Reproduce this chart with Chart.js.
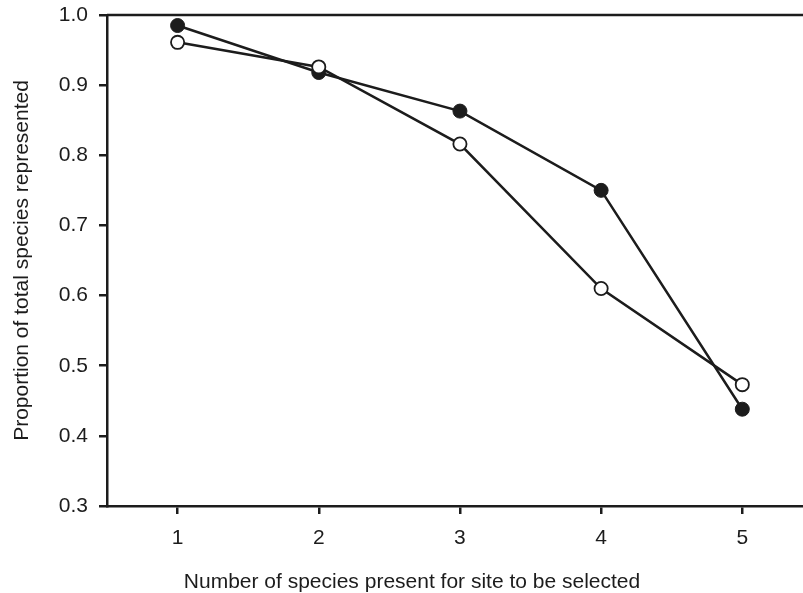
<!DOCTYPE html>
<html>
<head>
<meta charset="utf-8">
<script src="https://cdn.jsdelivr.net/npm/chart.js@4/dist/chart.umd.min.js"></script>
<style>
  body { margin: 0; background: #fff; }
  canvas { display: block; }
</style>
</head>
<body>
<canvas id="myChart" width="803" height="593"></canvas>
<script>
// Data
const categories = [1, 2, 3, 4, 5];
const filledValues = [0.985, 0.918, 0.863, 0.750, 0.438];
const openValues = [0.961, 0.926, 0.816, 0.610, 0.473];
const yTicks = [0.3, 0.4, 0.5, 0.6, 0.7, 0.8, 0.9, 1.0];
const xTitle = 'Number of species present for site to be selected';
const yTitle = 'Proportion of total species represented';

const ink = '#1c1c1c';
const font = 'Liberation Sans, Arial, Helvetica, sans-serif';

// Build point lists from the arrays
function toPoints(values) {
    return categories.map((c, i) => ({ x: c, y: values[i] }));
}

// Top frame line and the off-centre x axis title
const framePlugin = {
    id: 'frame',
    afterDraw(chart) {
        const { ctx, chartArea } = chart;
        ctx.save();
        ctx.strokeStyle = ink;
        ctx.lineWidth = 2.5;
        ctx.beginPath();
        ctx.moveTo(chartArea.left, chartArea.top);
        ctx.lineTo(chartArea.right, chartArea.top);
        ctx.stroke();

        ctx.fillStyle = ink;
        ctx.font = '21px ' + font;
        ctx.textAlign = 'center';
        ctx.textBaseline = 'middle';
        ctx.fillText(xTitle, 412, 582);
        ctx.restore();
    }
};

const ctx = document.getElementById('myChart').getContext('2d');

const myChart = new Chart(ctx, {
    type: 'line',
    data: {
        datasets: [
            {
                label: 'open',
                data: toPoints(openValues),
                borderColor: ink,
                borderWidth: 2.5,
                pointRadius: 6.6,
                pointBorderWidth: 1.8,
                pointBackgroundColor: '#fff',
                pointBorderColor: ink,
                tension: 0
            },
            {
                label: 'filled',
                data: toPoints(filledValues),
                borderColor: ink,
                borderWidth: 2.5,
                pointRadius: 7,
                pointBorderWidth: 1,
                pointBackgroundColor: ink,
                pointBorderColor: ink,
                tension: 0
            }
        ]
    },
    options: {
        responsive: false,
        animation: false,
        layout: { autoPadding: false, padding: { top: 15, left: 0, right: 0, bottom: 0 } },
        plugins: {
            legend: { display: false },
            tooltip: { enabled: false }
        },
        scales: {
            x: {
                type: 'linear',
                min: 0.5,
                max: 5.43,
                afterBuildTicks: scale => { scale.ticks = categories.map(v => ({ value: v })); },
                afterFit: scale => {
                    scale.height = 87;
                    scale.paddingLeft = 0;
                    scale.paddingRight = 0;
                },
                grid: { drawOnChartArea: false, drawTicks: true, tickLength: 8, color: ink, lineWidth: 2.5 },
                border: { display: true, color: ink, width: 2.5 },
                ticks: {
                    color: ink,
                    padding: 12,
                    font: { family: font, size: 21 },
                    callback: v => String(v)
                },
                title: { display: false }
            },
            y: {
                min: 0.3,
                max: 1.0,
                afterBuildTicks: scale => { scale.ticks = yTicks.map(v => ({ value: v })); },
                afterFit: scale => {
                    scale.width = 107;
                    scale.paddingTop = 0;
                    scale.paddingBottom = 0;
                },
                grid: { drawOnChartArea: false, drawTicks: true, tickLength: 8, color: ink, lineWidth: 2.5 },
                border: { display: true, color: ink, width: 2.5 },
                ticks: {
                    color: ink,
                    padding: 11,
                    font: { family: font, size: 21 },
                    callback: v => Number(v).toFixed(1)
                },
                title: {
                    display: true,
                    text: yTitle,
                    color: ink,
                    font: { family: font, size: 21 },
                    padding: { top: 9.5, bottom: 0 }
                }
            }
        }
    },
    plugins: [framePlugin]
});
</script>
</body>
</html>
